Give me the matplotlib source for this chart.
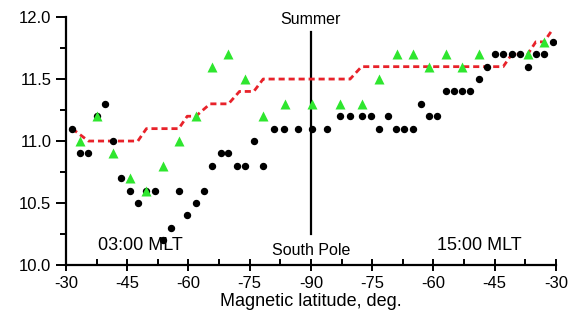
import matplotlib
matplotlib.use("Agg")
import matplotlib.pyplot as plt
from matplotlib.ticker import MultipleLocator

plt.rcParams['font.family'] = ['Liberation Sans', 'DejaVu Sans']

# Position along the pass (degrees of arc from the first -30 crossing, pole at 60)
black_x = [1.5, 3.5, 5.5, 7.6, 9.5, 11.5, 13.5, 15.6, 17.6, 19.7, 21.7, 23.8, 25.8,
           27.6, 29.7, 31.8, 33.8, 35.8, 37.9, 39.8, 41.8, 43.8, 46.0, 48.3, 50.9,
           53.5, 56.8, 60.2, 63.9, 67.1, 69.6, 72.4, 74.7, 76.7, 78.9, 80.8, 82.9,
           84.9, 87.0, 88.9, 90.8, 93.0, 95.0, 97.1, 99.0, 101.1, 103.1, 105.1,
           107.1, 109.2, 111.2, 113.1, 115.1, 117.1, 119.2]
black_y = [11.1, 10.9, 10.9, 11.2, 11.3, 11.0, 10.7, 10.6, 10.5, 10.6, 10.6, 10.2, 10.3,
           10.6, 10.4, 10.5, 10.6, 10.8, 10.9, 10.9, 10.8, 10.8, 11.0, 10.8, 11.1,
           11.1, 11.1, 11.1, 11.1, 11.2, 11.2, 11.2, 11.2, 11.1, 11.2, 11.1, 11.1,
           11.1, 11.3, 11.2, 11.2, 11.4, 11.4, 11.4, 11.4, 11.5, 11.6, 11.7,
           11.7, 11.7, 11.7, 11.6, 11.7, 11.7, 11.8]

green_x = [3.5, 7.6, 11.5, 15.7, 19.7, 23.8, 27.6, 31.8, 35.8, 39.8, 43.8, 48.3, 53.6,
           60.2, 67.1, 72.4, 76.7, 81.0, 84.9, 88.9, 93.0, 97.1, 101.1, 113.1, 117.1]
green_y = [11.0, 11.2, 10.9, 10.7, 10.6, 10.8, 11.0, 11.2, 11.6, 11.7, 11.5, 11.2, 11.3,
           11.3, 11.3, 11.3, 11.5, 11.7, 11.7, 11.6, 11.7, 11.6, 11.7, 11.7, 11.8]

red_x = [1.5, 5.5, 17.6, 19.7, 27.6, 29.7, 31.8, 35.3, 39.8, 42.5, 46.0, 48.3,
         69.6, 72.4, 107.1, 109.2, 113.1, 115.1, 117.1, 119.2]
red_y = [11.1, 11.0, 11.0, 11.1, 11.1, 11.2, 11.2, 11.3, 11.3, 11.4, 11.4, 11.5,
         11.5, 11.6, 11.6, 11.7, 11.7, 11.8, 11.8, 11.9]

tick_pos = [0, 15, 30, 45, 60, 75, 90, 105, 120]
tick_labels = ['-30', '-45', '-60', '-75', '-90', '-75', '-60', '-45', '-30']

fig = plt.figure(figsize=(5.79, 3.22), dpi=100)
ax = fig.add_axes([0.114, 0.177, 0.846, 0.770])

ax.plot(red_x, red_y, color='#e8222a', lw=2.0, dashes=(2.2, 1.4), zorder=2)
ax.plot(black_x, black_y, 'o', color='black', ms=4.3, zorder=3)
ax.plot(green_x, green_y, '^', color='#2ee62e', ms=6.5, mec='none', zorder=4)

ax.plot([60, 60], [10.25, 11.88], color='black', lw=1.6, zorder=1)
ax.text(60, 11.92, 'Summer', ha='center', va='bottom', fontsize=11.5)
ax.text(60, 10.12, 'South Pole', ha='center', va='center', fontsize=11.5)
ax.text(18.2, 10.16, '03:00 MLT', ha='center', va='center', fontsize=13)
ax.text(101.3, 10.16, '15:00 MLT', ha='center', va='center', fontsize=13)

ax.set_xlim(0, 120)
ax.set_ylim(10.0, 12.0)
ax.set_xticks(tick_pos)
ax.set_xticklabels(tick_labels)
ax.xaxis.set_minor_locator(MultipleLocator(7.5))
ax.set_yticks([10.0, 10.5, 11.0, 11.5, 12.0])
ax.set_yticklabels(['10.0', '10.5', '11.0', '11.5', '12.0'])
ax.yaxis.set_minor_locator(MultipleLocator(0.25))

for s in ('top', 'right'):
    ax.spines[s].set_visible(False)
for s in ('left', 'bottom'):
    ax.spines[s].set_linewidth(1.6)

ax.tick_params(axis='both', which='major', labelsize=12, width=1.4, length=6, color='black')
ax.tick_params(axis='x', which='major', direction='inout', length=9)
ax.tick_params(axis='y', which='major', direction='out', length=7)
ax.tick_params(axis='x', which='minor', direction='in', length=4, width=1.4)
ax.tick_params(axis='y', which='minor', direction='out', length=4, width=1.4)
ax.set_xlabel('Magnetic latitude, deg.', fontsize=13, labelpad=1)

fig.savefig('out.png', dpi=100)
